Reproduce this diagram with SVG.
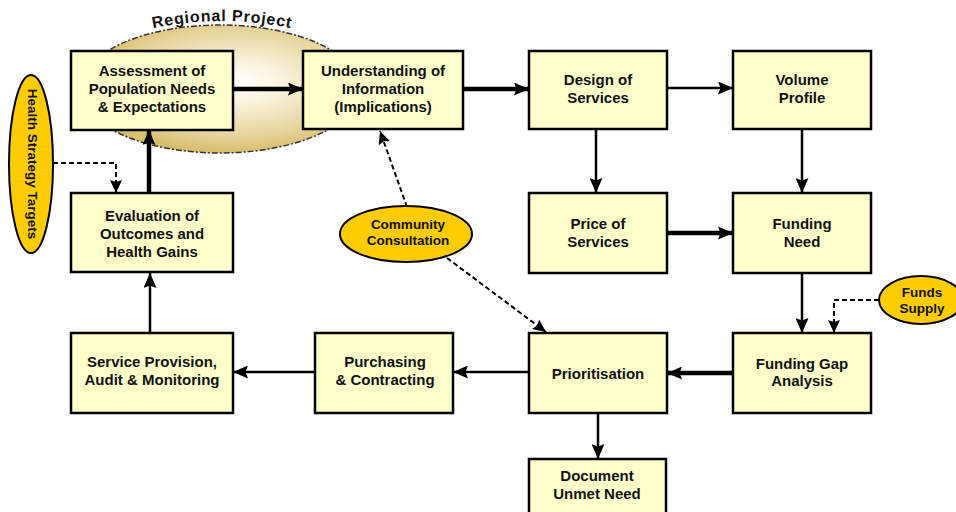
<svg xmlns="http://www.w3.org/2000/svg" width="956" height="512" viewBox="0 0 956 512">
<defs>
<radialGradient id="rg" cx="0.56" cy="0.45" r="0.55">
<stop offset="0" stop-color="#FFFFFF"/>
<stop offset="0.3" stop-color="#FAF3DC"/>
<stop offset="0.75" stop-color="#E6D49C"/>
<stop offset="1" stop-color="#D7BD6C"/>
</radialGradient>
<marker id="ah" markerUnits="userSpaceOnUse" markerWidth="16" markerHeight="13" refX="15" refY="6.5" orient="auto">
<path d="M0,0 L15,6.5 L0,13 L2.5,6.5 Z" fill="#000"/>
</marker>
<marker id="ahd" markerUnits="userSpaceOnUse" markerWidth="14" markerHeight="12" refX="13" refY="6" orient="auto">
<path d="M0,0 L13,6 L0,12 L2,6 Z" fill="#000"/>
</marker>
<path id="rp" d="M150,29 Q222,13 294,29"/>
</defs>
<style>
.box{fill:#FFFFCC;stroke:#000;stroke-width:2.5}
.oval{fill:#FFCC00;stroke:#000;stroke-width:2}
text{font-family:"Liberation Sans",Arial,sans-serif;font-weight:bold;fill:#111;text-anchor:middle}
.t{font-size:15px}
.s{font-size:13.5px}
.thick{stroke:#000;stroke-width:4.5;fill:none;marker-end:url(#ah)}
.thin{stroke:#000;stroke-width:2.5;fill:none;marker-end:url(#ah)}
.dash{stroke:#000;stroke-width:2;fill:none;stroke-dasharray:5 3;marker-end:url(#ahd)}
</style>
<rect width="956" height="512" fill="#fff"/>

<g id="regional-project">
<ellipse cx="220" cy="89" rx="140" ry="64" fill="url(#rg)" stroke="#333" stroke-width="1.5" stroke-dasharray="6 2 2 2"/>
<text style="font-size:16px;letter-spacing:0.8px"><textPath href="#rp" startOffset="50%">Regional Project</textPath></text>
</g>

<g id="connectors">
<path class="thick" d="M233,89 H303"/>
<path class="thick" d="M463,89 H529"/>
<path class="thin" d="M667,88 H733"/>
<path class="thin" d="M596,129 V193"/>
<path class="thin" d="M802,129 V193"/>
<path class="thick" d="M667,233 H733"/>
<path class="thin" d="M802,273 V333"/>
<path class="dash" d="M879,300 H834 V333"/>
<path class="thick" d="M733,373 H667"/>
<path class="thin" d="M529,372 H453"/>
<path class="thin" d="M315,372 H233"/>
<path class="thin" d="M150,333 V273"/>
<path class="thick" d="M149,193 V130"/>
<path class="thin" d="M598,413 V459"/>
<path class="dash" d="M53,163 H116 V193"/>
<path class="dash" d="M407,207 L380,131"/>
<path class="dash" d="M447,258 L546,332"/>
</g>

<g id="assessment">
<rect class="box" x="71" y="51" width="162" height="79"/>
<text class="t" x="152" y="76">Assessment of</text>
<text class="t" x="152" y="94">Population Needs</text>
<text class="t" x="152" y="112">&amp; Expectations</text>
</g>
<g id="understanding">
<rect class="box" x="303" y="51" width="160" height="78"/>
<text class="t" x="383" y="76">Understanding of</text>
<text class="t" x="383" y="94">Information</text>
<text class="t" x="383" y="112">(Implications)</text>
</g>
<g id="design">
<rect class="box" x="529" y="51" width="138" height="78"/>
<text class="t" x="598" y="85">Design of</text>
<text class="t" x="598" y="103">Services</text>
</g>
<g id="volume">
<rect class="box" x="733" y="51" width="138" height="78"/>
<text class="t" x="802" y="85">Volume</text>
<text class="t" x="802" y="103">Profile</text>
</g>
<g id="evaluation">
<rect class="box" x="71" y="193" width="162" height="79"/>
<text class="t" x="152" y="221">Evaluation of</text>
<text class="t" x="152" y="239">Outcomes and</text>
<text class="t" x="152" y="257">Health Gains</text>
</g>
<g id="price">
<rect class="box" x="529" y="193" width="138" height="80"/>
<text class="t" x="598" y="229">Price of</text>
<text class="t" x="598" y="247">Services</text>
</g>
<g id="funding-need">
<rect class="box" x="733" y="193" width="138" height="80"/>
<text class="t" x="802" y="229">Funding</text>
<text class="t" x="802" y="247">Need</text>
</g>
<g id="service-provision">
<rect class="box" x="71" y="333" width="162" height="80"/>
<text class="t" x="152" y="367">Service Provision,</text>
<text class="t" x="152" y="385">Audit &amp; Monitoring</text>
</g>
<g id="purchasing">
<rect class="box" x="315" y="333" width="138" height="80"/>
<text class="t" x="385" y="367">Purchasing</text>
<text class="t" x="385" y="385">&amp; Contracting</text>
</g>
<g id="prioritisation">
<rect class="box" x="529" y="333" width="138" height="80"/>
<text class="t" x="598" y="379">Prioritisation</text>
</g>
<g id="funding-gap">
<rect class="box" x="733" y="333" width="138" height="80"/>
<text class="t" x="802" y="369">Funding Gap</text>
<text class="t" x="802" y="386">Analysis</text>
</g>
<g id="document">
<rect class="box" x="529" y="459" width="137" height="60"/>
<text class="t" x="597" y="481">Document</text>
<text class="t" x="597" y="499">Unmet Need</text>
</g>

<g id="health-strategy-targets">
<ellipse class="oval" cx="31" cy="164" rx="22" ry="89"/>
<text class="s" x="0" y="0" dominant-baseline="central" transform="translate(32,164) rotate(90)">Health Strategy Targets</text>
</g>
<g id="community-consultation">
<ellipse class="oval" cx="406" cy="234" rx="66" ry="28"/>
<text class="s" x="408" y="229">Community</text>
<text class="s" x="408" y="245">Consultation</text>
</g>
<g id="funds-supply">
<ellipse class="oval" cx="921" cy="300" rx="42" ry="24"/>
<text class="s" x="922" y="297">Funds</text>
<text class="s" x="922" y="313">Supply</text>
</g>
</svg>
